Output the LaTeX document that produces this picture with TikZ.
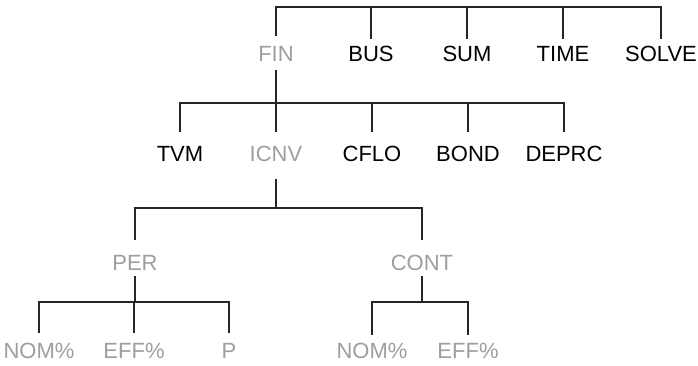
\documentclass[tikz,border=0pt]{standalone}
\usepackage{fontspec}
\setmainfont{Liberation Sans}
\usetikzlibrary{positioning}

\begin{document}
\begin{tikzpicture}[
    x=1pt, y=-1pt,
    menu/.style={inner sep=0pt, text height=16pt, text depth=0pt, font=\fontsize{22}{22}\selectfont},
    live/.style={menu, text=black},
    dim/.style={menu, text=black!38},
    link/.style={line width=1.5pt, black!85}
]
    \useasboundingbox (0,0) rectangle (698,366);

    % 第一层
    \node[dim] (fin) at (276, 54) {FIN};
    \node[live] (bus) at (371, 54) {BUS};
    \node[live] (sum) at (467, 54) {SUM};
    \node[live] (time) at (563, 54) {TIME};
    \node[live] (solve) at (661, 54) {SOLVE};

    % 第二层
    \node[live] (tvm) at (180, 154) {TVM};
    \node[dim] (icnv) at (276, 154) {ICNV};
    \node[live] (cflo) at (372, 154) {CFLO};
    \node[live] (bond) at (468, 154) {BOND};
    \node[live] (deprc) at (564, 154) {DEPRC};

    % 第三层
    \node[dim] (per) at (135, 262) {PER};
    \node[dim] (cont) at (422, 262) {CONT};

    % 第四层
    \node[dim] (pnom) at (39, 350) {NOM\%};
    \node[dim] (peff) at (134, 350) {EFF\%};
    \node[dim] (pp) at (229, 350) {P};
    \node[dim] (cnom) at (372, 350) {NOM\%};
    \node[dim] (ceff) at (468, 350) {EFF\%};

    % 横线高度
    \coordinate (bar1) at (0, 7);
    \coordinate (bar2) at (0, 103);
    \coordinate (bar3) at (0, 208);
    \coordinate (bar4) at (0, 302);

    % 顶部菜单
    \draw[link, shorten <=10pt, shorten >=7pt] (fin.north) -- (fin.north |- bar1) -| (solve.north);
    \draw[link, shorten >=7pt] (bus.north |- bar1) -- (bus.north);
    \draw[link, shorten >=7pt] (sum.north |- bar1) -- (sum.north);
    \draw[link, shorten >=7pt] (time.north |- bar1) -- (time.north);

    % FIN 子菜单
    \draw[link, shorten <=8pt, shorten >=14pt] (fin.south) -- (fin.south |- bar2) -| (tvm.north);
    \draw[link, shorten <=8pt, shorten >=14pt] (fin.south) -- (fin.south |- bar2) -| (icnv.north);
    \draw[link, shorten <=8pt, shorten >=14pt] (fin.south) -- (fin.south |- bar2) -| (cflo.north);
    \draw[link, shorten <=8pt, shorten >=14pt] (fin.south) -- (fin.south |- bar2) -| (bond.north);
    \draw[link, shorten <=8pt, shorten >=14pt] (fin.south) -- (fin.south |- bar2) -| (deprc.north);

    % ICNV 子菜单
    \draw[link, shorten <=17pt, shorten >=14pt] (icnv.south) -- (icnv.south |- bar3) -| (per.north);
    \draw[link, shorten <=17pt, shorten >=14pt] (icnv.south) -- (icnv.south |- bar3) -| (cont.north);

    % PER 与 CONT 子菜单
    \draw[link, shorten <=6pt, shorten >=9pt] (per.south) -- (per.south |- bar4) -| (pnom.north);
    \draw[link, shorten <=6pt, shorten >=9pt] (per.south) -- (per.south |- bar4) -| (peff.north);
    \draw[link, shorten <=6pt, shorten >=9pt] (per.south) -- (per.south |- bar4) -| (pp.north);
    \draw[link, shorten <=6pt, shorten >=7pt] (cont.south) -- (cont.south |- bar4) -| (cnom.north);
    \draw[link, shorten <=6pt, shorten >=7pt] (cont.south) -- (cont.south |- bar4) -| (ceff.north);
\end{tikzpicture}
\end{document}
